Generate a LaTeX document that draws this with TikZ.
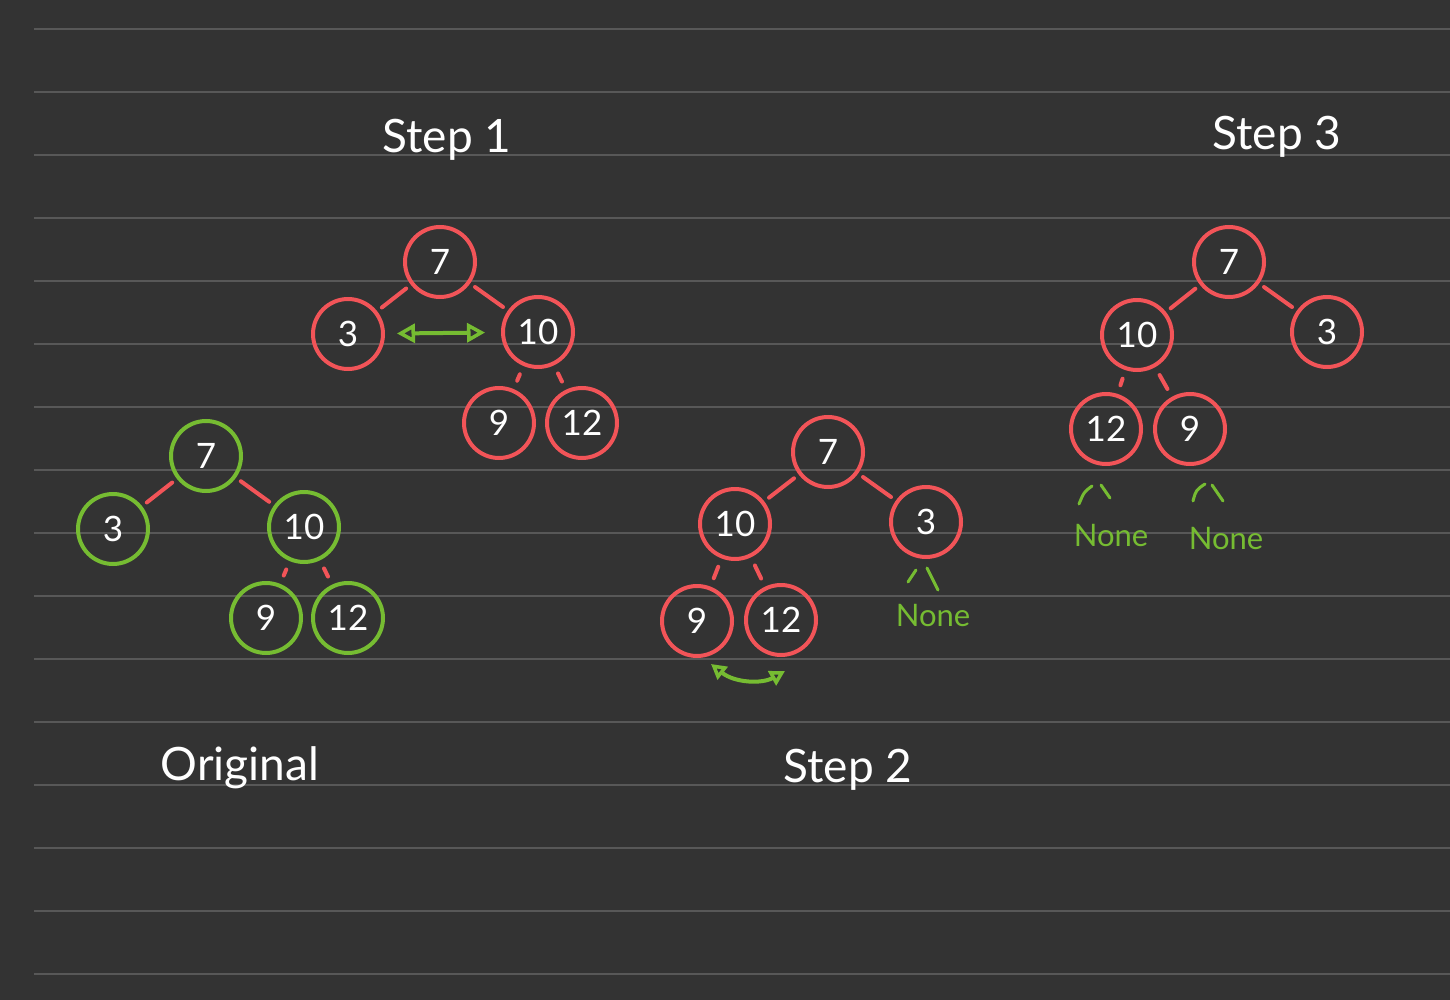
\documentclass[tikz,border=0pt]{standalone}
\usepackage{fontspec}
\setmainfont{Lato}
\usetikzlibrary{arrows.meta}
\definecolor{bg}{RGB}{51,51,51}
\definecolor{rule}{RGB}{88,88,88}
\definecolor{nred}{RGB}{242,84,88}
\definecolor{ngreen}{RGB}{118,188,50}
\tikzset{
  x=1pt, y=-1pt,
  tnode/.style={circle, draw=nred, line width=4pt, minimum size=70pt, inner sep=0pt, text=white, font=\fontsize{35}{35}\selectfont},
  gnode/.style={tnode, draw=ngreen},
  edge/.style={draw=nred, line width=4pt, line cap=round, shorten <=6pt, shorten >=6pt},
  kid/.style={edge, shorten <=9pt, shorten >=9pt},
  lbltxt/.style={text=white, font=\fontsize{46}{46}\selectfont},
  nonetxt/.style={text=ngreen, font=\fontsize{31}{31}\selectfont},
  tick/.style={draw=ngreen, line width=3pt, line cap=round},
  swap/.style={draw=ngreen, line width=4pt, line cap=round, {Triangle[open,length=18pt,width=19pt,line width=3.5pt]}-{Triangle[open,length=18pt,width=19pt,line width=3.5pt]}}
}
\begin{document}
\begin{tikzpicture}
\fill[bg] (0,0) rectangle (1450,1000);
\useasboundingbox (0,0) rectangle (1450,1000);
\foreach \k in {0,...,15} {
  \draw[rule, line width=2pt] (34,29+63*\k) -- (1450,29+63*\k);
}

% Original
\node[gnode] (o7) at (206,456) {7};
\node[gnode] (o3) at (113,529) {3};
\node[gnode] (o10) at (304,527) {10};
\node[gnode] (o9) at (266,618) {9};
\node[gnode] (o12) at (348,618) {12};
\draw[edge] (o7) -- (o3);
\draw[edge] (o7) -- (o10);
\draw[kid] (o10) -- (o9);
\draw[kid] (o10) -- (o12);
\node[lbltxt] (lorig) at (240,768) {Original};

% Step 1
\node[tnode] (a7) at (440,262) {7};
\node[tnode] (a3) at (348,334) {3};
\node[tnode] (a10) at (538,332) {10};
\node[tnode] (a9) at (499,423) {9};
\node[tnode] (a12) at (582,423) {12};
\draw[edge] (a7) -- (a3);
\draw[edge] (a7) -- (a10);
\draw[kid] (a10) -- (a9);
\draw[kid] (a10) -- (a12);
\draw[swap, shorten <=12pt, shorten >=16pt] (a3) -- (a10);
\node[lbltxt] (l1) at (447,140) {Step 1};

% Step 2
\node[tnode] (b7) at (828,452) {7};
\node[tnode] (b10) at (735,524) {10};
\node[tnode] (b3) at (926,522) {3};
\node[tnode] (b9) at (697,621) {9};
\node[tnode] (b12) at (781,620) {12};
\draw[edge] (b7) -- (b10);
\draw[edge] (b7) -- (b3);
\draw[kid] (b10) -- (b9);
\draw[kid] (b10) -- (b12);
\coordinate (b9s) at (711,664);
\coordinate (b12s) at (785,671);
\draw[draw=ngreen, line width=4pt, line cap=round, {Triangle[open,length=15pt,width=16pt,line width=3.5pt]}-{Triangle[open,length=15pt,width=16pt,line width=3.5pt]}]
  (b9s) .. controls (735,683) and (762,684) .. (b12s);
\node[nonetxt] (bn) at (933,615) {None};
\draw[tick] (916,570) -- (908,582);
\draw[tick] (927,568) -- (938,590);
\node[lbltxt] (l2) at (848,770) {Step 2};

% Step 3
\node[tnode] (c7) at (1229,262) {7};
\node[tnode] (c10) at (1137,335) {10};
\node[tnode] (c3) at (1327,332) {3};
\node[tnode] (c12) at (1106,429) {12};
\node[tnode] (c9) at (1190,429) {9};
\draw[edge] (c7) -- (c10);
\draw[edge] (c7) -- (c3);
\draw[kid] (c10) -- (c12);
\draw[kid] (c10) -- (c9);
\node[nonetxt] (cn1) at (1111,535) {None};
\node[nonetxt] (cn2) at (1226,538) {None};
\draw[tick] (1092,486) .. controls (1084,492) .. (1079,504);
\draw[tick] (1101,485) -- (1110,498);
\draw[tick] (1205,484) .. controls (1196,490) .. (1193,501);
\draw[tick] (1212,485) -- (1223,501);
\node[lbltxt] (l3) at (1277,137) {Step 3};
\end{tikzpicture}
\end{document}
